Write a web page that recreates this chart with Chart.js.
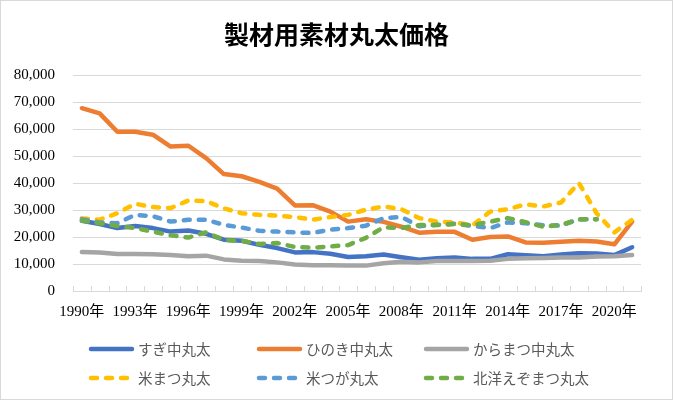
<!DOCTYPE html>
<html lang="ja">
<head>
<meta charset="UTF-8">
<title>製材用素材丸太価格</title>
<script src="https://cdn.jsdelivr.net/npm/chart.js"></script>
<style>
  body { margin: 0; background: #fff; }
  .frame { width: 673px; height: 400px; box-sizing: border-box; border: 1px solid #d9d9d9; background: #fff; }
</style>
</head>
<body>
<div class="frame"><canvas id="myChart"></canvas></div>
<script>
const chartTitle = '製材用素材丸太価格';
const years = [1990, 1991, 1992, 1993, 1994, 1995, 1996, 1997, 1998, 1999, 2000, 2001, 2002, 2003, 2004, 2005,
               2006, 2007, 2008, 2009, 2010, 2011, 2012, 2013, 2014, 2015, 2016, 2017, 2018, 2019, 2020, 2021];
const yTicks = [0, 10000, 20000, 30000, 40000, 50000, 60000, 70000, 80000];

// 円/m3
const sugi = [26000, 24800, 23300, 24100, 23300, 22000, 22400, 21200, 19000, 18600, 17100, 15900, 14300, 14400, 13800, 12600,
              12900, 13500, 12500, 11600, 12100, 12400, 11900, 11900, 13600, 13200, 12900, 13500, 14000, 13900, 13300, 16200];
const hinoki = [67700, 65800, 59000, 59000, 57900, 53500, 53800, 49200, 43300, 42500, 40400, 37900, 31700, 31800, 29400, 25700,
                26600, 25600, 23800, 21600, 21900, 21900, 19000, 20000, 20200, 18000, 17900, 18200, 18600, 18300, 17300, 25700];
const karamatsu = [14400, 14300, 13700, 13700, 13600, 13300, 12900, 13100, 11700, 11200, 11100, 10600, 9800, 9500, 9500, 9400,
                   9400, 10300, 10800, 10600, 11100, 11100, 11100, 11200, 11900, 12100, 12200, 12400, 12400, 12800, 12900, 13300];
const beimatsu = [26900, 26400, 28800, 32300, 31100, 30700, 33500, 33300, 30600, 28800, 28200, 27900, 27400, 26400, 27400, 28200,
                  30100, 31300, 30300, 27000, 25700, 25400, 24300, 29400, 30300, 32100, 31300, 32800, 40000, 28800, 21700, 26400];
const beitsuga = [26600, 25400, 25100, 28200, 27700, 25700, 26400, 26400, 24500, 23500, 22300, 22000, 21700, 21500, 22700, 23300,
                  24200, 27000, 27400, 24000, 24500, 24900, 24100, 23300, 25400, 25100, 24300, 24200, 26600, 26600, null, null];
const ezomatsu = [26100, 25100, 24100, 23300, 22000, 20600, 19800, 21700, 18900, 18600, 17400, 17800, 16300, 16000, 16500, 17000,
                  19700, 23600, 23300, 24400, 24400, 24800, 24400, 25700, 27000, 25500, 23800, 24500, 26500, 26600, null, null];

const seriesNames = ['すぎ中丸太', 'ひのき中丸太', 'からまつ中丸太', '米まつ丸太', '米つが丸太', '北洋えぞまつ丸太'];
const seriesData = [sugi, hinoki, karamatsu, beimatsu, beitsuga, ezomatsu];
const seriesColors = ['#4472C4', '#ED7D31', '#A5A5A5', '#FFC000', '#5B9BD5', '#70AD47'];
const seriesDashed = [false, false, false, true, true, true];

const tickFont = "'Liberation Serif', 'Noto Sans CJK JP', serif";
const dashPattern = [6, 9];

const extras = {
  id: 'extras',
  beforeDatasetsDraw(chart) {
    // small tick marks pointing up from the x axis
    const ctx = chart.ctx, area = chart.chartArea;
    const step = (area.right - area.left) / years.length;
    ctx.save();
    ctx.strokeStyle = '#d9d9d9';
    ctx.lineWidth = 1;
    ctx.beginPath();
    for (let i = 0; i <= years.length; i++) {
      const x = Math.round(area.left + step * i) + 0.5;
      ctx.moveTo(x, area.bottom - 5);
      ctx.lineTo(x, area.bottom);
    }
    ctx.stroke();
    ctx.restore();
  },
  afterDraw(chart) {
    const ctx = chart.ctx;
    ctx.save();
    ctx.fillStyle = '#000';
    ctx.font = "bold 25px 'Noto Sans CJK JP'";
    ctx.textAlign = 'center';
    ctx.textBaseline = 'middle';
    ctx.fillText(chartTitle, chart.width / 2, 33);

    // legend, 3 columns x 2 rows
    const colX = [88, 256, 423];
    const rowY = [348, 377];
    ctx.textAlign = 'left';
    ctx.font = "14.5px 'Noto Sans CJK JP'";
    seriesNames.forEach((name, i) => {
      const x0 = colX[i % 3], y = rowY[Math.floor(i / 3)];
      ctx.strokeStyle = seriesColors[i];
      ctx.lineWidth = 4.5;
      ctx.lineCap = 'round';
      ctx.setLineDash(seriesDashed[i] ? dashPattern : []);
      ctx.beginPath();
      ctx.moveTo(x0 + 2, y);
      ctx.lineTo(x0 + 43, y);
      ctx.stroke();
      ctx.setLineDash([]);
      ctx.fillStyle = '#595959';
      ctx.fillText(name, x0 + 49, y);
    });
    ctx.restore();
  }
};

const datasets = seriesNames.map((name, i) => ({
  label: name,
  data: seriesData[i],
  borderColor: seriesColors[i],
  backgroundColor: seriesColors[i],
  borderWidth: 4.5,
  borderDash: seriesDashed[i] ? dashPattern : [],
  borderCapStyle: 'round',
  borderJoinStyle: 'round',
  pointRadius: 0,
  tension: 0,
  order: seriesNames.length - i
}));

new Chart(document.getElementById('myChart'), {
  type: 'line',
  data: { labels: years.map(y => y + '年'), datasets },
  options: {
    responsive: true,
    maintainAspectRatio: false,
    animation: false,
    devicePixelRatio: 1,
    layout: { padding: { left: 0, right: 31, top: 74, bottom: 78 } },
    plugins: {
      legend: { display: false },
      title: { display: false },
      tooltip: { enabled: false }
    },
    scales: {
      x: {
        offset: true,
        grid: { display: false, drawTicks: false },
        border: { display: true, color: '#d9d9d9', width: 1 },
        ticks: {
          autoSkip: false,
          maxRotation: 0,
          padding: 12,
          color: '#000',
          font: { family: tickFont, size: 15 },
          callback: (v, i) => (i % 3 === 0 ? years[i] + '年' : '')
        },
        afterFit: s => { s.height = 30; }
      },
      y: {
        min: 0,
        max: 80000,
        afterBuildTicks: s => { s.ticks = yTicks.map(v => ({ value: v })); },
        grid: { color: '#d9d9d9', lineWidth: 1, drawTicks: false },
        border: { display: false },
        ticks: {
          padding: 18,
          color: '#000',
          font: { family: tickFont, size: 15 },
          callback: v => v.toLocaleString('en-US')
        },
        afterFit: s => { s.width = 72; }
      }
    }
  },
  plugins: [extras]
});
</script>
</body>
</html>
